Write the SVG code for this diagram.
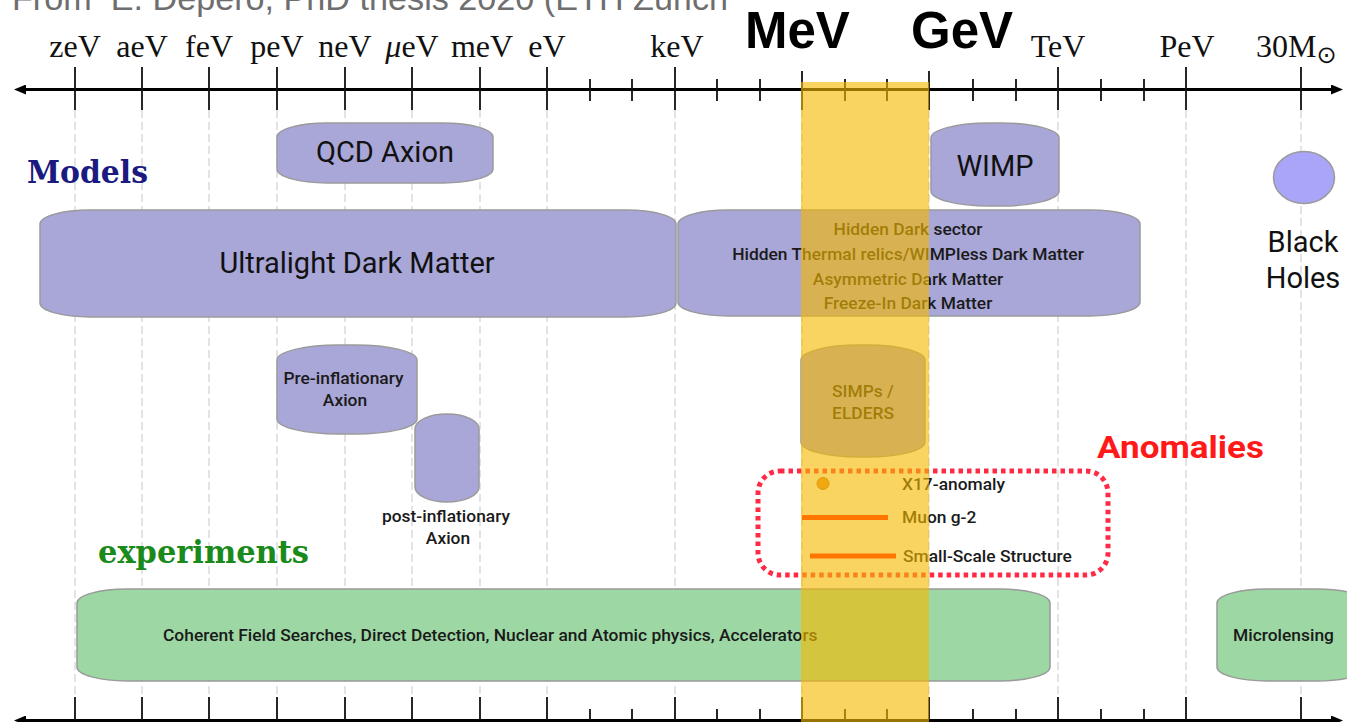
<svg xmlns="http://www.w3.org/2000/svg" width="1347" height="722" viewBox="0 0 1347 722">
<defs>
<style>
.ax{stroke:#000;stroke-width:3;fill:none}
.tk{stroke:#111;stroke-width:1.8;fill:none}
.grid{stroke:#8a8a8a;stroke-opacity:0.4;stroke-width:1.2;stroke-dasharray:8 4;fill:none}
.tl{font-family:"Liberation Serif",serif;font-size:32px;fill:#111;text-anchor:middle}
.big{font-family:"Liberation Sans",Arial,sans-serif;font-weight:bold;font-size:51px;fill:#000}
.pur{fill:#a9a6d8;stroke:#9a9a9a;stroke-width:1.5}
.grn{fill:#9dd7a4;stroke:#9a9a9a;stroke-width:1.5}
.lg{font-family:Roboto,"Liberation Sans",sans-serif;font-size:29px;fill:#111;text-anchor:middle}
.sm{font-family:Roboto,"Liberation Sans",sans-serif;font-weight:500;font-size:17.4px;fill:#1a1a1a;text-anchor:middle}
.sml{font-family:Roboto,"Liberation Sans",sans-serif;font-weight:500;font-size:17.4px;fill:#1a1a1a}
.slab{font-family:"DejaVu Serif",serif;font-weight:bold;font-size:32px}
</style>
<marker id="arr" viewBox="0 0 12 10" refX="2" refY="5" markerWidth="12" markerHeight="10" markerUnits="userSpaceOnUse" orient="auto-start-reverse">
<path d="M0,0 L12,5 L0,10 z" fill="#000"/>
</marker>
<clipPath id="hdrclip"><rect x="0" y="0" width="728" height="40"/></clipPath>
</defs>
<rect width="1347" height="722" fill="#fff"/>

<g id="header" clip-path="url(#hdrclip)">
<text x="12" y="10" font-family="Liberation Sans, Arial, sans-serif" font-size="33" fill="#6e6e6e" textLength="716" lengthAdjust="spacingAndGlyphs" xml:space="preserve">From  E. Depero, PhD thesis 2020 (ETH Zurich</text>
</g>

<g id="grid">
<path class="grid" d="M75,110V697 M142,110V697 M209,110V697 M277,110V697 M345,110V697 M412,110V697 M480,110V697 M547,110V697 M675,110V697 M802,110V697 M929,110V697 M1058,110V697 M1186,110V697 M1301,110V697"/>
</g>

<g id="axis-top">
<line class="ax" x1="24" y1="89.5" x2="1333" y2="89.5" marker-start="url(#arr)" marker-end="url(#arr)"/>
<path class="tk" d="M75,67V110 M142,67V110 M209,67V110 M277,67V110 M345,67V110 M412,67V110 M480,67V110 M547,67V110 M675,67V110 M802,71V110 M929,71V110 M1058,67V110 M1186,67V110 M1301,67V110"/>
<path class="tk" d="M590,79V101 M632,79V101 M717,79V101 M760,79V101 M845,79V101 M887,79V101 M973,79V101 M1016,79V101 M1101,79V101 M1144,79V101"/>
<text class="tl" x="75" y="57">zeV</text>
<text class="tl" x="142" y="57">aeV</text>
<text class="tl" x="209" y="57">feV</text>
<text class="tl" x="277" y="57">peV</text>
<text class="tl" x="345" y="57">neV</text>
<text class="tl" x="412" y="57"><tspan font-style="italic">μ</tspan>eV</text>
<text class="tl" x="482" y="57">meV</text>
<text class="tl" x="547" y="57">eV</text>
<text class="tl" x="677" y="57">keV</text>
<text class="tl" x="1058" y="57">TeV</text>
<text class="tl" x="1187" y="57">PeV</text>
<text class="tl" x="1256" y="57" style="text-anchor:start">30M<tspan font-size="24" dy="6" font-family="DejaVu Sans, sans-serif">⊙</tspan></text>
<text class="big" x="745" y="48">MeV</text>
<text class="big" x="911" y="48">GeV</text>
</g>

<g id="axis-bottom">
<line class="ax" x1="24" y1="720.5" x2="1333" y2="720.5" marker-start="url(#arr)" marker-end="url(#arr)"/>
<path class="tk" d="M75,697V720 M142,697V720 M209,697V720 M277,697V720 M345,697V720 M412,697V720 M480,697V720 M547,697V720 M675,697V720 M802,697V720 M929,697V720 M1058,697V720 M1186,697V720 M1301,697V720"/>
<path class="tk" d="M590,709V720 M632,709V720 M717,709V720 M760,709V720 M845,709V720 M887,709V720 M973,709V720 M1016,709V720 M1101,709V720 M1144,709V720"/>
</g>

<g id="label-models"><text class="slab" x="27" y="183" fill="#1a1a80" textLength="121" lengthAdjust="spacingAndGlyphs">Models</text></g>
<g id="label-experiments"><text class="slab" x="98" y="563" fill="#1a8a1a" textLength="211" lengthAdjust="spacingAndGlyphs">experiments</text></g>
<g id="label-anomalies"><text x="1097" y="458" font-family="Roboto, Liberation Sans, sans-serif" font-weight="bold" font-size="32" fill="#ff1a1a" textLength="167" lengthAdjust="spacingAndGlyphs">Anomalies</text></g>

<g id="node-qcd">
<rect class="pur" x="277" y="123" width="216" height="60" rx="50" ry="14"/>
<text class="lg" x="385" y="162">QCD Axion</text>
</g>
<g id="node-wimp">
<rect class="pur" x="931" y="123" width="128" height="83" rx="58" ry="15"/>
<text class="lg" x="995" y="176">WIMP</text>
</g>
<g id="node-blackholes">
<ellipse cx="1304" cy="177.5" rx="30.5" ry="26" fill="#a9a5f8" stroke="#9a9a9a" stroke-width="1.5"/>
<text class="lg" x="1303" y="251.5">Black</text>
<text class="lg" x="1303" y="287.5">Holes</text>
</g>
<g id="node-ultralight">
<rect class="pur" x="40" y="210" width="636" height="107" rx="50" ry="14"/>
<text class="lg" x="357" y="273">Ultralight Dark Matter</text>
</g>
<g id="node-hidden">
<rect class="pur" x="678" y="210" width="462" height="106" rx="50" ry="14"/>
<text class="sm" x="908" y="234.5">Hidden Dark sector</text>
<text class="sm" x="908" y="259.5">Hidden Thermal relics/WIMPless Dark Matter</text>
<text class="sm" x="908" y="284.5">Asymmetric Dark Matter</text>
<text class="sm" x="908" y="309">Freeze-In Dark Matter</text>
</g>
<g id="node-preinfl">
<rect class="pur" x="277" y="345" width="140" height="89" rx="62" ry="15"/>
<text class="sm" x="343.5" y="383.5">Pre-inflationary</text>
<text class="sm" x="345" y="405.5">Axion</text>
</g>
<g id="node-postinfl">
<rect class="pur" x="415" y="414" width="64" height="88" rx="32" ry="15"/>
<text class="sm" x="446" y="521.5">post-inflationary</text>
<text class="sm" x="448" y="543.5">Axion</text>
</g>
<g id="node-simps">
<rect class="pur" x="801" y="345" width="124" height="112" rx="58" ry="15"/>
<text class="sm" x="863" y="396.5">SIMPs /</text>
<text class="sm" x="863" y="419">ELDERS</text>
</g>
<g id="node-anomalies">
<rect x="758" y="471" width="350" height="104" rx="22" ry="22" fill="none" stroke="#ff2a45" stroke-width="5" stroke-dasharray="4.5 4"/>
<circle cx="823" cy="483.5" r="6" fill="#e8892c" stroke="#c26a1a" stroke-width="1"/>
<text class="sml" x="902" y="489.5">X17-anomaly</text>
<text class="sml" x="902" y="522.5">Muon g-2</text>
<text class="sml" x="903" y="561.5">Small-Scale Structure</text>
</g>
<g id="node-coherent">
<rect class="grn" x="77" y="589" width="973" height="92" rx="50" ry="14"/>
<text class="sml" x="163" y="641">Coherent Field Searches, Direct Detection, Nuclear and Atomic physics, Accelerators</text>
</g>
<g id="node-microlensing">
<rect class="grn" x="1217" y="589" width="150" height="92" rx="50" ry="14"/>
<text class="sm" x="1283.5" y="641">Microlensing</text>
</g>

<g id="connectors"></g>

<g id="mev-gev-band">
<rect x="801" y="82" width="128" height="640" fill="#f5b900" fill-opacity="0.62"/>
</g>

<g id="anomaly-lines">
<line x1="802" y1="517.5" x2="888" y2="517.5" stroke="#ff7700" stroke-width="5"/>
<line x1="810" y1="556" x2="896" y2="556" stroke="#ff7700" stroke-width="5"/>
</g>
</svg>
